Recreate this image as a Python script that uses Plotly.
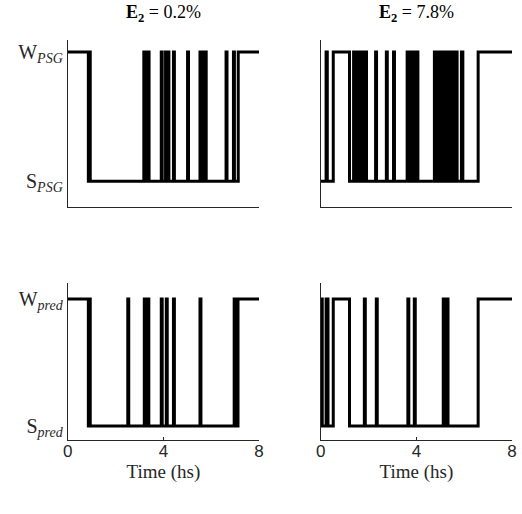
import plotly.graph_objects as go

# ---- data: hypnogram transitions (time in hours, state 1 = Wake, 0 = Sleep) ----
psg_a_t = [0, 0.86, 0.90, 0.94, 3.18, 3.24, 3.33, 3.40, 3.91, 3.95, 4.09, 4.13, 4.19, 4.23,
           4.42, 4.46, 5.01, 5.05, 5.53, 5.57, 5.67, 5.71, 5.75, 5.79, 6.62, 6.66, 6.93, 6.97, 7.13, 8]
psg_a_s = [1, 0, 1, 0, 1, 0, 1, 0, 1, 0, 1, 0, 1, 0,
           1, 0, 1, 0, 1, 0, 1, 0, 1, 0, 1, 0, 1, 0, 1, 1]

pred_a_t = [0, 0.86, 0.90, 0.94, 2.51, 2.55, 3.20, 3.24, 3.34, 3.39, 3.91, 3.95, 4.12, 4.16,
            4.42, 4.46, 5.53, 5.57, 6.96, 7.00, 7.12, 8]
pred_a_s = [1, 0, 1, 0, 1, 0, 1, 0, 1, 0, 1, 0, 1, 0,
            1, 0, 1, 0, 1, 0, 1, 1]

psg_b_t = [0, 0.22, 0.27, 0.52, 1.20,
           1.37, 1.40, 1.44, 1.47, 1.50, 1.54, 1.57, 1.61, 1.64, 1.68, 1.71, 1.75, 1.78, 1.82, 1.85, 1.91,
           2.29, 2.33, 2.74, 2.78, 3.04, 3.08,
           3.61, 3.65, 3.68, 3.72, 3.75, 3.79, 3.82, 3.86, 3.89, 3.93, 3.96, 4.00, 4.02, 4.06,
           4.75, 4.79, 4.82, 4.86, 4.89, 4.93, 4.96, 5.00, 5.03, 5.07, 5.10, 5.14, 5.17, 5.21,
           5.24, 5.28, 5.31, 5.35, 5.38, 5.42,
           5.52, 5.56, 5.66, 5.70, 5.88, 5.94, 6.58, 8]
psg_b_s = [0, 1, 0, 1, 0,
           1, 0, 1, 0, 1, 0, 1, 0, 1, 0, 1, 0, 1, 0, 1, 0,
           1, 0, 1, 0, 1, 0,
           1, 0, 1, 0, 1, 0, 1, 0, 1, 0, 1, 0, 1, 0,
           1, 0, 1, 0, 1, 0, 1, 0, 1, 0, 1, 0, 1, 0,
           1, 0, 1, 0, 1, 0,
           1, 0, 1, 0, 1, 0, 1, 1]

pred_b_t = [0, 0.06, 0.22, 0.30, 0.52, 1.20, 1.82, 1.86, 2.32, 2.36, 3.64, 3.68, 3.91, 3.95,
            5.12, 5.16, 5.28, 5.32, 6.58, 8]
pred_b_s = [1, 0, 1, 0, 1, 0, 1, 0, 1, 0, 1, 0, 1, 0,
            1, 0, 1, 0, 1, 1]

titles = ["<b>E</b><sub><b>2</b></sub> = 0.2%", "<b>E</b><sub><b>2</b></sub> = 7.8%"]
x_ticks = [0, 4, 8]
psg_labels = ["S<sub><i>PSG</i></sub>", "W<sub><i>PSG</i></sub>"]
pred_labels = ["S<sub><i>pred</i></sub>", "W<sub><i>pred</i></sub>"]
x_title = "Time (hs)"

W, H = 522, 514
serif = "Liberation Serif"
sans = "Liberation Sans"

fig = go.Figure()
panels = [
    (psg_a_t, psg_a_s, "x", "y"),
    (psg_b_t, psg_b_s, "x2", "y2"),
    (pred_a_t, pred_a_s, "x3", "y3"),
    (pred_b_t, pred_b_s, "x4", "y4"),
]
for t, s, xa, ya in panels:
    fig.add_trace(go.Scatter(x=t, y=s, mode="lines", line=dict(color="black", width=3, shape="hv"),
                             xaxis=xa, yaxis=ya, showlegend=False, hoverinfo="skip"))

xl = [64 / W, 259 / W]
xr = [322 / W, 517 / W]
yt = [1 - 207 / H, 1 - 40 / H]
yb = [1 - 440 / H, 1 - 283 / H]

axis_common = dict(showline=True, linecolor="#262626", linewidth=1, showgrid=False, zeroline=False,
                   mirror=False)

def xaxis(domain, anchor, labels):
    d = dict(axis_common, domain=domain, anchor=anchor, range=[0, 8], tickvals=x_ticks,
             fixedrange=True)
    if labels:
        d.update(ticks="inside", ticklen=3, tickcolor="#262626", showticklabels=True,
                 ticklabelstandoff=-4,
                 tickfont=dict(family=sans, size=17, color="#262626"),
                 title=dict(text=x_title, font=dict(family=serif, size=19, color="#262626"), standoff=0))
    else:
        d.update(ticks="", showticklabels=False)
    return d

def yaxis(domain, anchor, rng, labels):
    d = dict(axis_common, domain=domain, anchor=anchor, range=rng, tickvals=[0, 1], ticks="",
             fixedrange=True)
    if labels:
        d.update(ticktext=labels, showticklabels=True,
                 tickfont=dict(family=serif, size=20, color="#262626"))
    else:
        d.update(showticklabels=False)
    return d

fig.update_layout(
    width=W, height=H,
    margin=dict(l=0, r=0, t=0, b=0),
    paper_bgcolor="white", plot_bgcolor="white",
    xaxis=xaxis(xl, "y", False),
    yaxis=yaxis(yt, "x", [-0.2, 1.093], psg_labels),
    xaxis2=xaxis(xr, "y2", False),
    yaxis2=yaxis(yt, "x2", [-0.2, 1.093], None),
    xaxis3=xaxis(xl, "y3", True),
    yaxis3=yaxis(yb, "x3", [-0.11, 1.126], pred_labels),
    xaxis4=xaxis(xr, "y4", True),
    yaxis4=yaxis(yb, "x4", [-0.11, 1.126], None),
    annotations=[
        dict(text=titles[0], x=(xl[0] + xl[1]) / 2, y=1 - 13 / H, xref="paper", yref="paper",
             showarrow=False, xanchor="center", yanchor="middle",
             font=dict(family=serif, size=18, color="black")),
        dict(text=titles[1], x=(xr[0] + xr[1]) / 2, y=1 - 13 / H, xref="paper", yref="paper",
             showarrow=False, xanchor="center", yanchor="middle",
             font=dict(family=serif, size=18, color="black")),
    ],
)

fig.write_html("out.html", config={"displayModeBar": False},
               post_script="document.body.style.margin='0';document.body.style.overflow='hidden';")
